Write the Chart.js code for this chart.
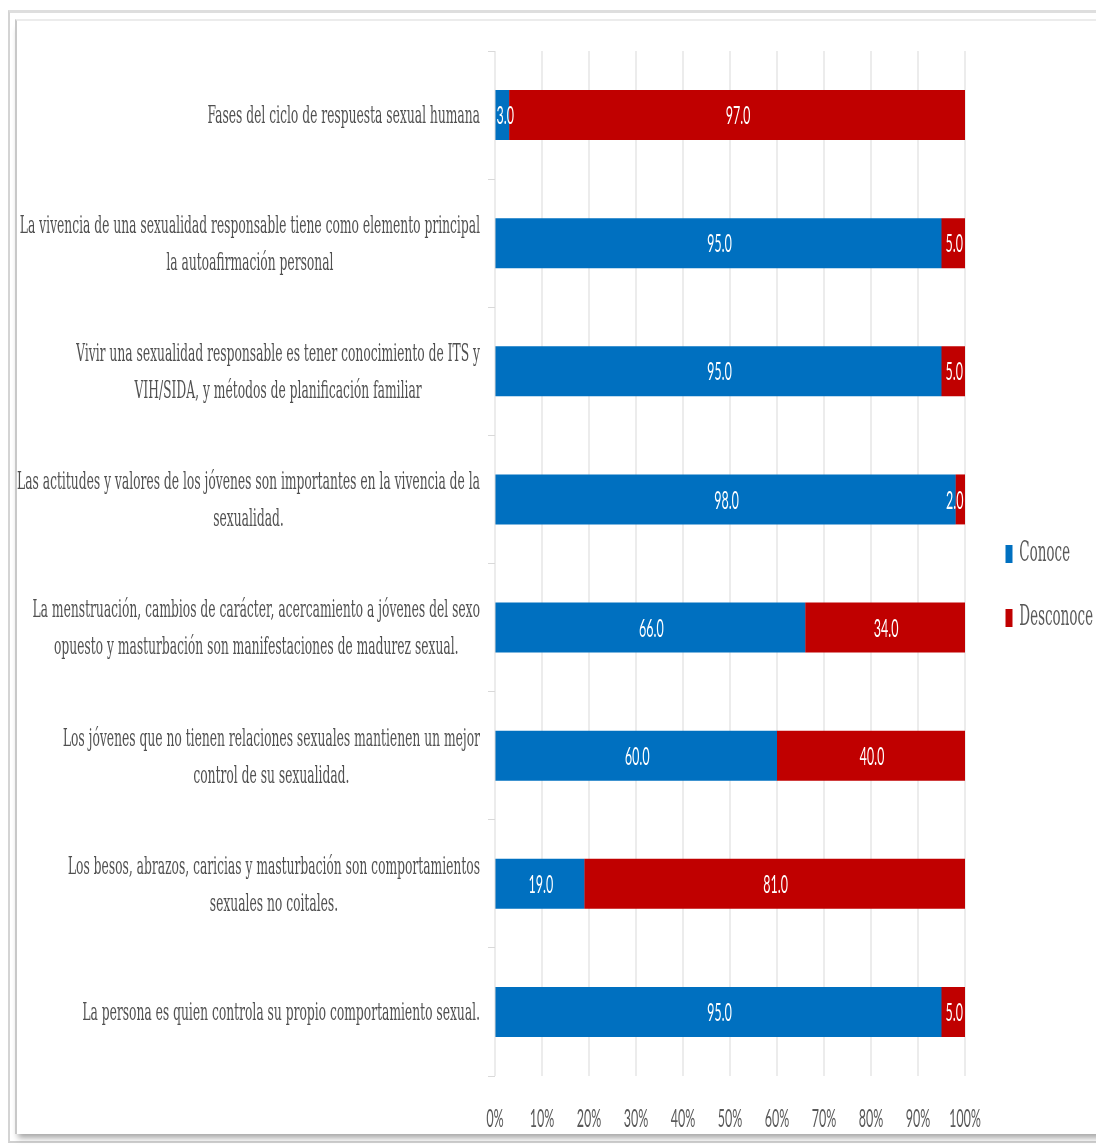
<!DOCTYPE html>
<html><head><meta charset="utf-8">
<script src="https://cdn.jsdelivr.net/npm/chart.js@4.4.1/dist/chart.umd.min.js"></script>
<style>
html,body{margin:0;padding:0;background:#fff;width:1096px;height:1148px;overflow:hidden;}
#outer{position:absolute;left:8px;top:10px;width:1200px;height:1128px;border-left:2px solid #d4d4d4;border-top:3px solid #dedede;border-bottom:2px solid #d0d0d0;}
#inner{position:absolute;left:15px;top:19px;width:1200px;height:1113px;border-left:2px solid #c8c8c8;border-top:2px solid #ececec;box-shadow:0 7px 6px -3px rgba(0,0,0,0.35);background:#fff;}
#c{position:absolute;left:0;top:0;}
</style></head><body>
<div id="outer"></div><div id="inner"></div>
<canvas id="c" width="2192" height="1148" style="width:1096px;height:1148px;"></canvas>
<script>
// ---- data ----
const categories = [
  ["Fases del ciclo de respuesta sexual humana"],
  ["La vivencia de una sexualidad responsable tiene como elemento principal", "la autoafirmación personal"],
  ["Vivir una sexualidad responsable es tener conocimiento de ITS y", "VIH/SIDA, y métodos de planificación familiar"],
  ["Las actitudes y valores de los jóvenes son importantes en la vivencia de la", "sexualidad."],
  ["La menstruación, cambios de carácter, acercamiento a jóvenes del sexo", "opuesto y masturbación son manifestaciones de madurez sexual."],
  ["Los jóvenes que no tienen relaciones sexuales mantienen un mejor", "control de su sexualidad."],
  ["Los besos, abrazos, caricias y masturbación son comportamientos", "sexuales no coitales."],
  ["La persona es quien controla su propio comportamiento sexual."]
];
const seriesNames = ["Conoce", "Desconoce"];
const conoce    = [3, 95, 95, 98, 66, 60, 19, 95];
const desconoce = [97, 5, 5, 2, 34, 40, 81, 5];
const xTickSuffix = "%";

// ---- layout helpers (canvas is drawn at 2x width then compressed horizontally) ----
const W = 2192, H = 1148;
const serif = '"DejaVu Serif"';
const labelSize = 24.6, legendSize = 27;
const mctx = document.createElement('canvas').getContext('2d');
const legendPad = 37, legendBoxW = 14;
mctx.font = legendSize + 'px ' + serif;
let legendText = 0;
seriesNames.forEach(t => { legendText = Math.max(legendText, mctx.measureText(t).width); });
const legendW = legendPad + legendBoxW + legendSize / 2 + legendText;
const areaLeft = 990, areaRight = 1930, gapRight = 44;
const padRight = W - areaRight - gapRight - legendW - 10;
const yTickLen = 14;

// centre the lines of each category label on one another, block right-aligned
const centerLines = {
  id: 'centerLines',
  beforeDraw(chart) {
    const sc = chart.scales.y;
    const ctx = chart.ctx;
    sc.getLabelItems().forEach(it => {
      if (it._centred) return;
      ctx.save();
      ctx.font = it.font.string;
      const lines = Array.isArray(it.label) ? it.label : [it.label];
      const w = Math.max(...lines.map(l => ctx.measureText(l).width));
      ctx.restore();
      it.options.translation[0] -= w / 2;
      it.options.translation[1] += 2;
      it.options.textAlign = 'center';
      it._centred = true;
    });
  }
};

const barLabels = {
  id: 'barLabels',
  afterDatasetsDraw(chart) {
    const ctx = chart.ctx;
    const area = chart.chartArea;
    ctx.save();
    ctx.font = '25px Lato';
    ctx.fillStyle = '#ffffff';
    ctx.textAlign = 'center';
    ctx.textBaseline = 'middle';
    chart.data.datasets.forEach((ds, i) => {
      chart.getDatasetMeta(i).data.forEach((el, j) => {
        const p = el.getCenterPoint();
        const txt = Number(ds.data[j]).toFixed(1);
        const half = ctx.measureText(txt).width / 2;
        let x = p.x + 2;
        x = Math.min(x, area.right - half - 3);
        x = Math.max(x, area.left + half + 3);
        ctx.fillText(txt, x, p.y + 1);
      });
    });
    ctx.restore();
  }
};

new Chart(document.getElementById('c'), {
  type: 'bar',
  data: {
    labels: categories,
    datasets: [
      { label: seriesNames[0], data: conoce, backgroundColor: '#0070C0', barPercentage: 0.39, categoryPercentage: 1 },
      { label: seriesNames[1], data: desconoce, backgroundColor: '#C00000', barPercentage: 0.39, categoryPercentage: 1 }
    ]
  },
  options: {
    indexAxis: 'y',
    responsive: false,
    maintainAspectRatio: false,
    animation: false,
    devicePixelRatio: 1,
    layout: { padding: { left: 0, top: 36, bottom: 12, right: padRight } },
    plugins: {
      tooltip: { enabled: false },
      legend: {
        position: 'right',
        labels: {
          boxWidth: legendBoxW, boxHeight: 18, padding: legendPad,
          color: '#595959',
          font: { family: serif, size: legendSize }
        }
      }
    },
    scales: {
      x: {
        stacked: true, min: 0, max: 100,
        border: { display: false },
        grid: { color: '#d9d9d9', lineWidth: 2, drawTicks: false },
        ticks: {
          stepSize: 10, padding: 28, maxRotation: 0,
          color: '#595959', font: { family: 'Lato', size: 25 },
          callback: v => v + xTickSuffix
        },
        afterFit: s => { s.height = 60; }
      },
      x2: {
        type: 'linear', position: 'top', display: true,
        grid: { display: false }, border: { display: false }, ticks: { display: false },
        afterFit: s => { s.height = 15; }
      },
      y: {
        stacked: true,
        border: { display: false },
        grid: { color: '#d9d9d9', lineWidth: 1, drawOnChartArea: false, tickLength: yTickLen, offset: true },
        ticks: {
          autoSkip: false, crossAlign: 'near', padding: 16,
          color: '#505050', font: { family: serif, size: labelSize, lineHeight: 37 / labelSize }
        },
        afterFit: s => { s.width = areaLeft; }
      },
      y2: {
        type: 'category', position: 'right', display: true,
        grid: { display: false }, border: { display: false }, ticks: { display: false },
        afterFit: s => { s.width = gapRight; }
      }
    }
  },
  plugins: [centerLines, barLabels]
});
</script>
</body></html>
